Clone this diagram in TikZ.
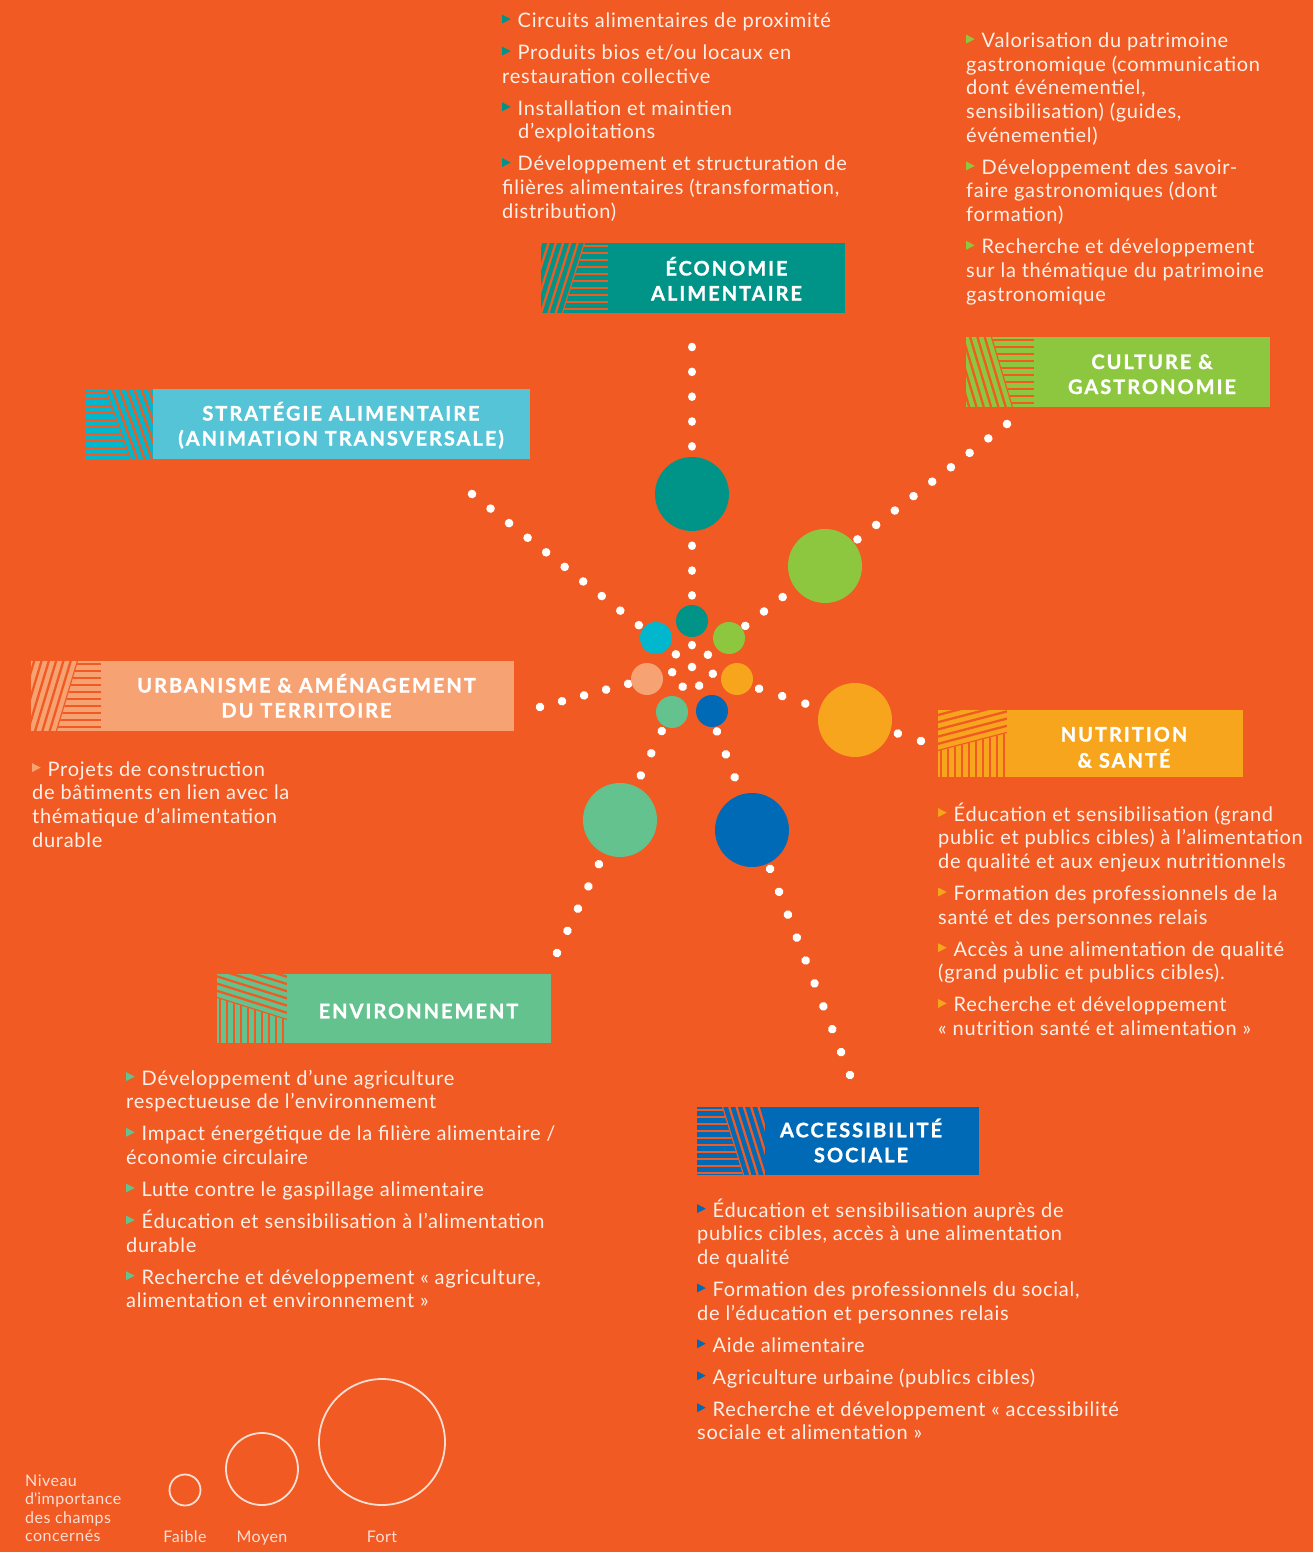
\documentclass[tikz,border=0pt]{standalone}
\usepackage{fontspec}
\setmainfont{Lato}
\usetikzlibrary{calc}

\definecolor{bg}{RGB}{241,90,34}
\definecolor{cEco}{RGB}{0,148,137}
\definecolor{cStr}{RGB}{84,196,214}
\definecolor{cStrDeep}{RGB}{0,183,205}
\definecolor{cCul}{RGB}{141,198,63}
\definecolor{cUrb}{RGB}{247,162,114}
\definecolor{cNut}{RGB}{248,165,30}
\definecolor{cEnv}{RGB}{100,194,143}
\definecolor{cAcc}{RGB}{0,106,182}
\definecolor{txtc}{RGB}{254,240,233}
\definecolor{legc}{RGB}{252,222,211}

% heading font: heavy tracked capitals
\newcommand\hfont{\fontsize{20}{25}\selectfont\bfseries\addfontfeatures{LetterSpace=10,FakeBold=1.2}}
% body font
\newcommand\bfont{\fontsize{20}{23.7}\selectfont\addfontfeatures{LetterSpace=3.6}}
% coloured triangle bullet
\newcommand\bul[1]{\tikz[baseline=0pt]\fill[#1] (0pt,4pt) -- (8.5pt,8.4pt) -- (0pt,12.8pt) -- cycle;\hspace{7pt}}
% bullet list block
\newcommand\txtblock[1]{\begin{minipage}[t]{440pt}\raggedright\setlength\parskip{8.3pt}#1\end{minipage}}
% striped part of a heading tab: clip region, base line, shift step, count
\newcommand\hatchpart[6]{%
  \begin{scope}
    \clip #1;
    \foreach \k in {-#6,...,#6}{\draw[stripe] ($(#2)+(\k*#4,\k*#5)$) -- ($(#3)+(\k*#4,\k*#5)$);}
  \end{scope}}

\begin{document}
\begin{tikzpicture}[x=1pt,y=-1pt,
  stripe/.style={draw=bg, line width=2.3pt},
  dotray/.style={draw=white, line width=8.6pt, line cap=round, dash pattern=on 0.01pt off #1pt},
  bubble/.style={circle, inner sep=0pt, minimum size=#1, draw=none},
  hubdot/.style={circle, fill=white, inner sep=0pt, minimum size=8.6pt},
  catbox/.style={rectangle, inner sep=0pt, draw=none, anchor=north west},
  catlabel/.style={anchor=base, inner sep=0pt, text=white, font=\hfont},
  body/.style={anchor=base west, inner sep=0pt, text=txtc, font=\bfont},
  legring/.style={circle, draw=legc, line width=1.8pt, inner sep=0pt, minimum size=#1},
  legtext/.style={inner sep=0pt, text=legc, font=\fontsize{16}{18.5}\selectfont\addfontfeatures{LetterSpace=3}}]

\fill[bg] (0,0) rectangle (1313,1552);
\useasboundingbox (0,0) rectangle (1313,1552);

% ---------- radiating dotted rays ----------
\node[hubdot] (hub) at (692,667) {};
\coordinate (ecoEnd) at (692,347);
\coordinate (culEnd) at (1007,424);
\coordinate (nutEnd) at (921,741);
\coordinate (accEnd) at (850,1075);
\coordinate (envEnd) at (557,953);
\coordinate (urbEnd) at (540,707);
\coordinate (strEnd) at (472,494);

\draw[dotray=24.83] (ecoEnd) -- (hub);
\draw[dotray=23.6]  (culEnd) -- (hub);
\draw[dotray=24.3]  (nutEnd) -- (hub);
\draw[dotray=24.55] (accEnd) -- (hub);
\draw[dotray=24.53] (envEnd) -- (hub);
\draw[dotray=22.77] (urbEnd) -- (hub);
\draw[dotray=23.57] (strEnd) -- (hub);

% ---------- bubbles ----------
\node[bubble=74pt, fill=cEco] (ecoBig) at (692,494) {};
\node[bubble=74pt, fill=cCul] (culBig) at (825,566) {};
\node[bubble=74pt, fill=cNut] (nutBig) at (855,720) {};
\node[bubble=74pt, fill=cAcc] (accBig) at (752,830) {};
\node[bubble=74pt, fill=cEnv] (envBig) at (620,820) {};

\node[bubble=32pt, fill=cEco] (ecoSmall) at (692,621) {};
\node[bubble=32pt, fill=cStrDeep] (strSmall) at (656,638) {};
\node[bubble=32pt, fill=cCul] (culSmall) at (729,638) {};
\node[bubble=32pt, fill=cUrb] (urbSmall) at (647,679) {};
\node[bubble=32pt, fill=cNut] (nutSmall) at (737,679) {};
\node[bubble=32pt, fill=cEnv] (envSmall) at (672,712) {};
\node[bubble=32pt, fill=cAcc] (accSmall) at (712,711) {};

% ---------- heading tabs ----------
% Economie alimentaire
\fill[cEco] (541,243) rectangle (608,313);
\hatchpart{(541,243)--(585,243)--(563,313)--(541,313)--cycle}{563,313}{585,243}{7.3}{0}{10}
\hatchpart{(585,243)--(608,243)--(608,313)--(563,313)--cycle}{541,246}{608,246}{0}{7}{11}
\node[catbox, fill=cEco, minimum width=237pt, minimum height=70pt] (ecoBox) at (608,243) {};
\node[catlabel] (ecoLbl) at (726.5,275.5) {\begin{tabular}[t]{@{}c@{}}ÉCONOMIE\\ALIMENTAIRE\end{tabular}};

% Strategie alimentaire
\fill[cStrDeep] (85,389) rectangle (153,459);
\hatchpart{(85,389)--(105,389)--(130,459)--(85,459)--cycle}{85,392}{153,392}{0}{7}{11}
\hatchpart{(105,389)--(153,389)--(153,459)--(130,459)--cycle}{105,389}{130,459}{7.3}{0}{10}
\node[catbox, fill=cStr, minimum width=377pt, minimum height=70pt] (strBox) at (153,389) {};
\node[catlabel] (strLbl) at (341,420.5) {\begin{tabular}[t]{@{}c@{}}STRATÉGIE ALIMENTAIRE\\(ANIMATION TRANSVERSALE)\end{tabular}};

% Culture & gastronomie
\fill[cCul] (966,337) rectangle (1034,407);
\hatchpart{(966,337)--(992,337)--(1013,407)--(966,407)--cycle}{992,337}{1013,407}{7.3}{0}{10}
\hatchpart{(992,337)--(1034,337)--(1034,407)--(1013,407)--cycle}{966,340}{1034,340}{0}{7}{11}
\node[catbox, fill=cCul, minimum width=236pt, minimum height=70pt] (culBox) at (1034,337) {};
\node[catlabel] (culLbl) at (1152,369) {\begin{tabular}[t]{@{}c@{}}CULTURE \&\\GASTRONOMIE\end{tabular}};

% Urbanisme & amenagement
\fill[cUrb] (31,661) rectangle (101,731);
\hatchpart{(31,661)--(78,661)--(57,731)--(31,731)--cycle}{57,731}{78,661}{7.3}{0}{10}
\hatchpart{(78,661)--(101,661)--(101,731)--(57,731)--cycle}{31,664}{101,664}{0}{7}{11}
\node[catbox, fill=cUrb, minimum width=413pt, minimum height=70pt] (urbBox) at (101,661) {};
\node[catlabel] (urbLbl) at (306.5,692.5) {\begin{tabular}[t]{@{}c@{}}URBANISME \& AMÉNAGEMENT\\DU TERRITOIRE\end{tabular}};

% Nutrition & sante
\fill[cNut] (938,710) rectangle (1007,777);
\hatchpart{(938,710)--(1007,710)--(1007,733)--(938,751)--cycle}{938,751}{1007,733}{0}{7.2}{10}
\hatchpart{(938,751)--(1007,733)--(1007,777)--(938,777)--cycle}{941,700}{941,780}{7}{0}{11}
\node[catbox, fill=cNut, minimum width=236pt, minimum height=67pt] (nutBox) at (1007,710) {};
\node[catlabel] (nutLbl) at (1124,741.5) {\begin{tabular}[t]{@{}c@{}}NUTRITION\\\& SANTÉ\end{tabular}};

% Environnement
\fill[cEnv] (217,974) rectangle (287,1043);
\hatchpart{(217,974)--(287,974)--(287,1020)--(217,998)--cycle}{217,998}{287,1020}{0}{7.2}{10}
\hatchpart{(217,998)--(287,1020)--(287,1043)--(217,1043)--cycle}{220,960}{220,1050}{7}{0}{11}
\node[catbox, fill=cEnv, minimum width=264pt, minimum height=69pt] (envBox) at (287,974) {};
\node[catlabel] (envLbl) at (418.5,1018.3) {ENVIRONNEMENT};

% Accessibilite sociale
\fill[cAcc] (697,1107) rectangle (765,1175);
\hatchpart{(697,1107)--(722,1107)--(743,1175)--(697,1175)--cycle}{697,1110}{765,1110}{0}{7}{11}
\hatchpart{(722,1107)--(765,1107)--(765,1175)--(743,1175)--cycle}{722,1107}{743,1175}{7.3}{0}{10}
\node[catbox, fill=cAcc, minimum width=214pt, minimum height=68pt] (accBox) at (765,1107) {};
\node[catlabel] (accLbl) at (861,1137.3) {\begin{tabular}[t]{@{}c@{}}ACCESSIBILITÉ\\SOCIALE\end{tabular}};

% ---------- bullet lists ----------
\node[body] (ecoTxt) at (502,27.5) {\txtblock{%
\bul{cEco}Circuits alimentaires de proximité\par
\bul{cEco}Produits bios et/ou locaux en\\restauration collective\par
\bul{cEco}Installation et maintien\\\hspace*{16pt}d’exploitations\par
\bul{cEco}Développement et structuration de\\filières alimentaires (transformation,\\distribution)}};

\node[body] (culTxt) at (966,47.5) {\txtblock{%
\bul{cCul}Valorisation du patrimoine\\gastronomique (communication\\dont événementiel,\\sensibilisation) (guides,\\événementiel)\par
\bul{cCul}Développement des savoir-\\faire gastronomiques (dont\\formation)\par
\bul{cCul}Recherche et développement\\sur la thématique du patrimoine\\gastronomique}};

\node[body] (urbTxt) at (32,776) {\txtblock{%
\bul{cUrb}Projets de construction\\de bâtiments en lien avec la\\thématique d’alimentation\\durable}};

\node[body] (nutTxt) at (938,821) {\txtblock{%
\bul{cNut}Éducation et sensibilisation (grand\\public et publics cibles) à l’alimentation\\de qualité et aux enjeux nutritionnels\par
\bul{cNut}Formation des professionnels de la\\santé et des personnes relais\par
\bul{cNut}Accès à une alimentation de qualité\\(grand public et publics cibles).\par
\bul{cNut}Recherche et développement\\« nutrition santé et alimentation »}};

\node[body] (envTxt) at (126,1085) {\txtblock{%
\bul{cEnv}Développement d’une agriculture\\respectueuse de l’environnement\par
\bul{cEnv}Impact énergétique de la filière alimentaire /\\économie circulaire\par
\bul{cEnv}Lutte contre le gaspillage alimentaire\par
\bul{cEnv}Éducation et sensibilisation à l’alimentation\\durable\par
\bul{cEnv}Recherche et développement « agriculture,\\alimentation et environnement »}};

\node[body] (accTxt) at (697,1217) {\txtblock{%
\bul{cAcc}Éducation et sensibilisation auprès de\\publics cibles, accès à une alimentation\\de qualité\par
\bul{cAcc}Formation des professionnels du social,\\de l’éducation et personnes relais\par
\bul{cAcc}Aide alimentaire\par
\bul{cAcc}Agriculture urbaine (publics cibles)\par
\bul{cAcc}Recherche et développement « accessibilité\\sociale et alimentation »}};

% ---------- legend ----------
\node[legring=31pt] (ringLow) at (185,1490) {};
\node[legring=72pt] (ringMid) at (262,1469) {};
\node[legring=126pt] (ringHigh) at (382,1442) {};
\node[legtext, anchor=base] (lowLbl) at (185,1542) {Faible};
\node[legtext, anchor=base] (midLbl) at (262,1542) {Moyen};
\node[legtext, anchor=base] (highLbl) at (382,1542) {Fort};
\node[legtext, anchor=base west] (legTitle) at (25,1486) {\begin{tabular}[t]{@{}l@{}}Niveau\\d\textquotesingle importance\\des champs\\concernés\end{tabular}};

\end{tikzpicture}
\end{document}
